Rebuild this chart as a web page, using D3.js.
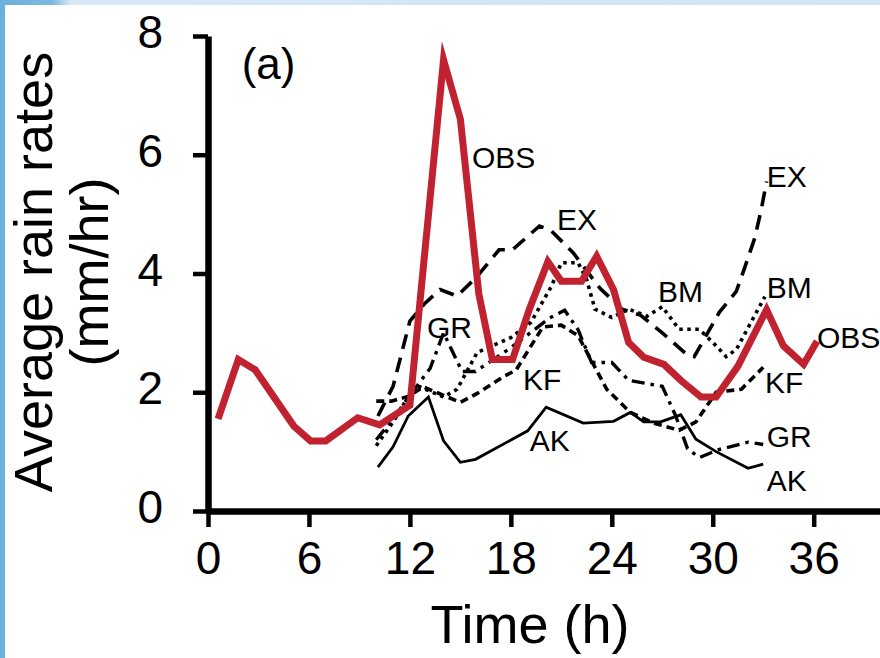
<!DOCTYPE html>
<html><head><meta charset="utf-8">
<script src="https://cdn.jsdelivr.net/npm/d3@7"></script>
<style>html,body{margin:0;padding:0;background:#fff;}svg{display:block;}</style>
</head><body>
<svg id="c" width="880" height="658"></svg>
<script>
// ---- data ----
const xTicks = [0, 6, 12, 18, 24, 30, 36];
const yTicks = [0, 2, 4, 6, 8];
const OBS = [[0.6,1.55],[1.8,2.55],[2.8,2.38],[5.1,1.43],[6.1,1.18],[7.0,1.18],[8.9,1.57],[10.2,1.45],[12.0,1.78],[14.0,7.6],[15.0,6.6],[16.1,3.65],[16.9,2.55],[18.1,2.55],[19.1,3.4],[20.2,4.2],[21.0,3.87],[22.2,3.87],[23.1,4.29],[24.1,3.73],[25.0,2.84],[25.9,2.59],[27.1,2.47],[28.1,2.2],[29.3,1.92],[30.2,1.92],[31.5,2.44],[33.2,3.39],[34.2,2.78],[35.4,2.47],[36.2,2.86]];
const EX = [[10.1,1.6],[11.0,2.1],[12.0,3.2],[12.9,3.5],[13.8,3.73],[14.8,3.62],[16.0,3.95],[17.3,4.4],[18.1,4.4],[19.7,4.8],[20.4,4.72],[21.7,4.35],[23.3,3.75],[24.6,3.4],[25.7,3.3],[27.0,3.0],[28.4,2.65],[28.9,2.6],[29.5,2.9],[30.4,3.35],[31.4,3.7],[31.9,4.1],[32.5,4.6],[32.9,5.1],[33.2,5.55]];
const BM = [[10.0,1.1],[11.0,1.5],[12.0,1.97],[12.6,2.09],[14.0,1.92],[14.8,2.05],[16.0,2.67],[18.0,2.92],[19.2,3.18],[20.4,3.78],[21.0,4.18],[22.0,4.18],[22.5,3.9],[23.0,3.4],[24.0,3.26],[25.0,3.4],[26.1,3.28],[27.0,3.44],[28.0,3.06],[29.2,3.06],[30.0,2.84],[30.8,2.6],[31.4,2.72],[33.1,3.61]];
const KF = [[10.0,1.85],[10.9,1.85],[11.9,1.93],[12.8,2.09],[15.0,1.83],[16.0,1.98],[17.6,2.27],[18.3,2.37],[19.9,3.1],[21.0,3.13],[22.0,2.95],[23.7,2.05],[25.1,1.66],[26.5,1.48],[28.0,1.36],[29.0,1.5],[30.2,2.0],[31.7,2.05],[33.0,2.42]];
const GR = [[10.0,1.2],[11.0,1.55],[12.0,1.95],[13.2,2.4],[14.0,3.0],[15.1,2.35],[15.9,2.35],[18.0,2.75],[20.3,3.25],[21.2,3.38],[22.0,3.05],[22.8,2.5],[24.0,2.5],[25.0,2.2],[26.0,2.15],[27.0,2.1],[27.8,1.6],[28.5,1.05],[29.2,0.9],[30.3,1.03],[32.1,1.16],[33.0,1.12]];
const AK = [[10.1,0.74],[11.0,1.08],[11.9,1.6],[13.1,1.92],[14.0,1.18],[15.0,0.82],[15.9,0.87],[19.0,1.35],[20.1,1.75],[22.3,1.48],[24.1,1.51],[25.1,1.66],[25.9,1.5],[26.9,1.5],[28.1,1.62],[29.0,1.21],[30.2,1.0],[32.1,0.72],[33.0,0.79]];
const labelText = ["OBS","EX","GR","KF","AK","BM","EX","BM","OBS","KF","GR","AK"];
const labelT    = [15.69, 20.74, 13.01, 18.72, 19.13, 26.74, 33.21, 33.21, 36.19, 33.1, 33.21, 33.21];
const labelV    = [5.78, 4.73, 2.91, 2.04, 1.01, 3.52, 5.46, 3.59, 2.75, 1.99, 1.08, 0.34];

// ---- drawing ----
const svg = d3.select("#c");
const font = "'Liberation Sans', Arial, Helvetica, sans-serif";

// frame decoration (screenshot border)
const grad = svg.append("defs").append("linearGradient").attr("id","tg").attr("x1","0").attr("x2","1");
grad.append("stop").attr("offset","0").attr("stop-color","#6cb0dc");
grad.append("stop").attr("offset","0.06").attr("stop-color","#7ab8e0");
grad.append("stop").attr("offset","0.08").attr("stop-color","#d8e8f5");
grad.append("stop").attr("offset","1").attr("stop-color","#d3e4f2");
svg.append("rect").attr("x",0).attr("y",0).attr("width",880).attr("height",5).attr("fill","url(#tg)");
svg.append("rect").attr("x",0).attr("y",0).attr("width",5).attr("height",658).attr("fill","#6cb0dc");

const x = d3.scaleLinear().domain([0, 40]).range([208, 881]);
const y = d3.scaleLinear().domain([0, 8]).range([511, 36]);

const line = d3.line().x(d => x(d[0])).y(d => y(d[1]));

// axes
const gx = svg.append("g").attr("transform", `translate(0,${y(0)})`)
  .call(d3.axisBottom(x).tickValues(xTicks).tickSize(16).tickSizeOuter(0).tickPadding(14).tickFormat(d3.format("d")));
gx.select(".domain").attr("stroke","#000").attr("stroke-width",6.5);
gx.selectAll(".tick line").attr("stroke","#000").attr("stroke-width",4.5);
gx.selectAll(".tick text").attr("font-family",font).attr("font-size",46).attr("fill","#000");

const gy = svg.append("g").attr("transform", `translate(${x(0)},0)`)
  .call(d3.axisLeft(y).tickValues(yTicks).tickSize(15).tickSizeOuter(0).tickPadding(30).tickFormat(d3.format("d")));
gy.select(".domain").attr("stroke","#000").attr("stroke-width",6.5);
gy.selectAll(".tick line").attr("stroke","#000").attr("stroke-width",4.5);
gy.selectAll(".tick text").attr("font-family",font).attr("font-size",46).attr("fill","#000").attr("dy","0.25em");

// series
const series = [
  {d: AK, dash: null, w: 2.8},
  {d: GR, dash: "13,6,3.5,6", w: 3.4},
  {d: KF, dash: "8,5", w: 3.6},
  {d: BM, dash: "3.5,4.5", w: 3.6},
  {d: EX, dash: "15,9", w: 3.6}
];
series.forEach(s => {
  svg.append("path").datum(s.d).attr("d", line)
    .attr("fill","none").attr("stroke","#000").attr("stroke-width", s.w)
    .attr("stroke-dasharray", s.dash).attr("stroke-linejoin","miter");
});
svg.append("path").datum(OBS).attr("d", line)
  .attr("fill","none").attr("stroke","#c1222f").attr("stroke-width",7)
  .attr("stroke-linejoin","miter").attr("stroke-miterlimit",10);

// in-plot labels
svg.append("g").selectAll("text").data(labelText).join("text")
  .attr("x",(d,i)=>x(labelT[i])).attr("y",(d,i)=>y(labelV[i]))
  .attr("font-family",font).attr("font-size",30).attr("fill","#000")
  .text(d=>d);

// panel tag
svg.append("text").attr("x",x(2.0)).attr("y",y(7.28)).attr("font-family",font)
  .attr("font-size",44).attr("fill","#000").text("(a)");

// axis titles
svg.append("text").attr("x",530).attr("y",643).attr("text-anchor","middle")
  .attr("font-family",font).attr("font-size",54).attr("fill","#000").text("Time (h)");
const yt = svg.append("text").attr("transform","translate(52,272) rotate(-90)")
  .attr("text-anchor","middle").attr("font-family",font).attr("font-size",54).attr("fill","#000");
yt.append("tspan").attr("x",0).attr("y",0).text("Average rain rates");
yt.append("tspan").attr("x",0).attr("y",56).text("(mm/hr)");
</script>
</body></html>
